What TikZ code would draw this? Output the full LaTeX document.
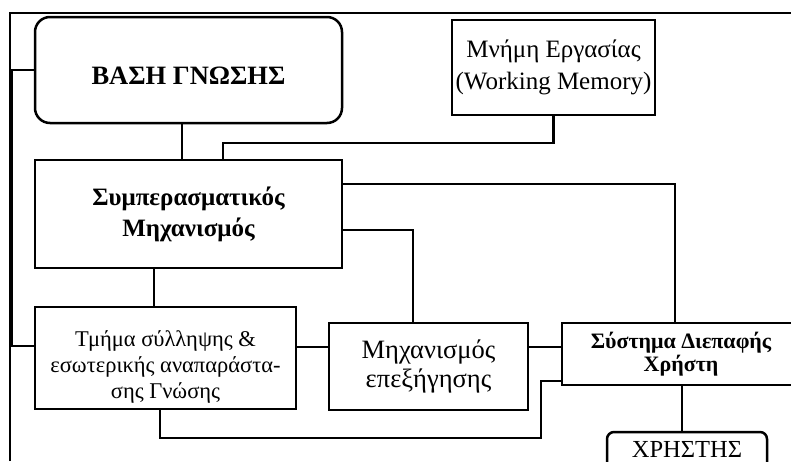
\documentclass[tikz,border=0pt]{standalone}
\usepackage{fontspec}
\setmainfont{Liberation Serif}
\usetikzlibrary{positioning}

\tikzset{
  box/.style={draw,line width=2.5pt,align=center},
  roundbox/.style={box,rounded corners=15pt},
  wire/.style={line width=2.4pt},
  frame/.style={line width=1.5pt},
}

\begin{document}
\begin{tikzpicture}[x=1pt,y=-1pt,every node/.style={inner sep=0,outer sep=0}]
      \useasboundingbox (0,0) rectangle (791,461);
      \clip (0,0) rectangle (791,461);

      \draw[frame](10,461)--(10,13)--(791,13);

      \node(bash)[roundbox,minimum width=307pt,minimum height=106pt,text height=28pt,text depth=0pt,
        font=\fontsize{26.5}{30}\selectfont\bfseries] at (188.5,70) {ΒΑΣΗ ΓΝΩΣΗΣ};
      \node(symp)[box,minimum width=307pt,minimum height=108pt,below=37pt of bash,
        font=\fontsize{25}{31}\selectfont\bfseries] {Συμπερασματικός\\Μηχανισμός};
      \node(wm)[box,minimum width=203pt,minimum height=95pt,
        font=\fontsize{25}{32}\selectfont] at (553.5,67.5) {Μνήμη Εργασίας\\(Working Memory)};

      \node(tmima)[box,minimum width=261pt,minimum height=102pt,
        font=\fontsize{22.5}{26}\selectfont] at (165.5,358)
        {\rule{0pt}{34pt}Τμήμα σύλληψης \&\\εσωτερικής αναπαράστα-\\σης Γνώσης};
      \node(mix)[box,minimum width=199pt,minimum height=87pt,
        font=\fontsize{26.5}{29}\selectfont] at (428.5,366.5) {Μηχανισμός\\επεξήγησης};
      \node(iface)[box,minimum width=238pt,minimum height=62pt,
        font=\fontsize{22}{23}\selectfont\bfseries] at (681,354) {Σύστημα Διεπαφής\\Χρήστη};
      \node(user)[roundbox,rounded corners=7pt,minimum width=160pt,anchor=north,
        inner ysep=8pt,text height=17pt,text depth=20pt,
        font=\fontsize{24.5}{28}\selectfont] at (687,432) {ΧΡΗΣΤΗΣ};

      \coordinate(rail) at (12,70);
      \coordinate(loop) at (541,438);

      \draw[wire]([xshift=-6.5pt]bash.south)--([xshift=-6.5pt]symp.north);
      \draw[wire](wm.south)--++(0,28)-|([xshift=34.5pt]symp.north);
      \draw[wire]([yshift=30pt]symp.east)-|([xshift=-6pt]iface.north);
      \draw[wire]([yshift=-16pt]symp.east)-|([xshift=-15.5pt]mix.north);
      \draw[wire]([xshift=-34.5pt]symp.south)--([xshift=-11.5pt]tmima.north);
      \draw[wire]([yshift=11pt]tmima.east)--([yshift=11pt]tmima.east -| mix.west);
      \draw[wire]([yshift=19.5pt]mix.east)--([yshift=19.5pt]mix.east -| iface.west);
      \draw[wire]([xshift=-5.5pt]tmima.south)|-(loop)|-([yshift=-27pt]iface.west);
      \draw[wire]([xshift=1pt]iface.south)--([xshift=1pt]iface.south |- user.north);
      \draw[line width=2.5pt](bash.west)--(bash.west -| rail)|-([yshift=12pt]tmima.west);
    \end{tikzpicture}
\end{document}
